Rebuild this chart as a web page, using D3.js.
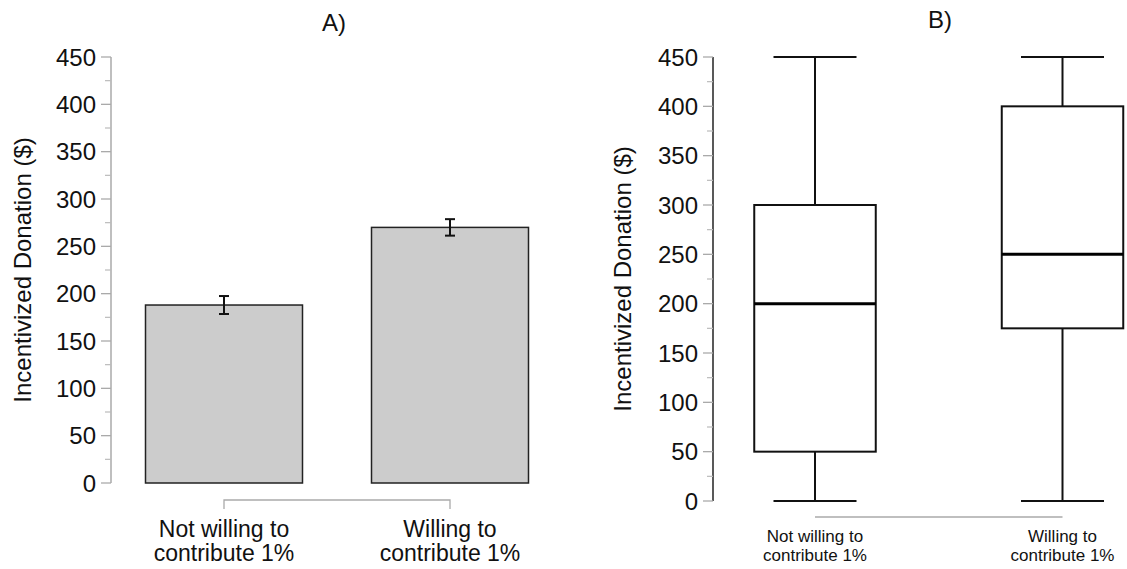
<!DOCTYPE html>
<html lang="en">
<head>
<meta charset="utf-8">
<script src="https://cdn.jsdelivr.net/npm/d3@7"></script>
<style>
  body { margin: 0; background: #fff; }
  svg text { font-family: "Liberation Sans", Arial, sans-serif; fill: #111; }
</style>
</head>
<body>
<div id="chart"></div>
<script>
// data
var categories = ["Not willing to contribute 1%", "Willing to contribute 1%"];
var labelLines = [["Not willing to", "contribute 1%"], ["Willing to", "contribute 1%"]];
var meanDonation = [188, 270];
var seDonation = [9.5, 8.7];
var boxMin = [0, 0];
var boxQ1 = [50, 175];
var boxMedian = [200, 250];
var boxQ3 = [300, 400];
var boxMax = [450, 450];
var yTicks = [0, 50, 100, 150, 200, 250, 300, 350, 400, 450];
var yMinorTicks = [25, 75, 125, 175, 225, 275, 325, 375, 425];
var yTitle = "Incentivized Donation ($)";

var svg = d3.select("#chart").append("svg")
  .attr("width", 1127).attr("height", 569);

// draws a y axis with major + minor ticks
function yAxis(g, y, x, lineColor) {
  var ax = g.append("g").attr("transform", "translate(" + x + ",0)");
  ax.append("line").attr("y1", y(0)).attr("y2", y(450))
    .attr("stroke", lineColor).attr("stroke-width", 1.5);
  ax.selectAll(".maj").data(yTicks).enter().append("line")
    .attr("x1", -10).attr("x2", 0).attr("y1", y).attr("y2", y)
    .attr("stroke", "#aaa").attr("stroke-width", 1.3);
  ax.selectAll(".min").data(yMinorTicks).enter().append("line")
    .attr("x1", -6).attr("x2", 0).attr("y1", y).attr("y2", y)
    .attr("stroke", "#bbb").attr("stroke-width", 1.2);
  ax.selectAll("text").data(yTicks).enter().append("text")
    .attr("x", -15).attr("y", y).attr("dy", "0.36em")
    .attr("text-anchor", "end").style("font-size", "24px")
    .text(d => d);
}

// two-line category labels, one text per line
function xLabels(g, x, y0, step, size) {
  categories.forEach(function (c, i) {
    labelLines[i].forEach(function (t, j) {
      g.append("text").attr("x", x(c)).attr("y", y0 + j * step)
        .attr("text-anchor", "middle").style("font-size", size + "px").text(t);
    });
  });
}

// ---------- panel A: bar chart with error bars ----------
var yA = d3.scaleLinear().domain([0, 450]).range([483, 57]);
var xA = d3.scalePoint().domain(categories).range([224, 450]);
var barW = 157;
var gA = svg.append("g");

gA.selectAll("rect").data(categories).enter().append("rect")
  .attr("x", d => xA(d) - barW / 2)
  .attr("y", (d, i) => yA(meanDonation[i]))
  .attr("width", barW)
  .attr("height", (d, i) => yA(0) - yA(meanDonation[i]))
  .attr("fill", "#cccccc").attr("stroke", "#222").attr("stroke-width", 1.5);

var eb = gA.selectAll(".eb").data(categories).enter().append("g");
eb.append("line")
  .attr("x1", d => xA(d)).attr("x2", d => xA(d))
  .attr("y1", (d, i) => yA(meanDonation[i] - seDonation[i]))
  .attr("y2", (d, i) => yA(meanDonation[i] + seDonation[i]))
  .attr("stroke", "#111").attr("stroke-width", 2);
[-1, 1].forEach(function (s) {
  eb.append("line")
    .attr("x1", d => xA(d) - 5).attr("x2", d => xA(d) + 5)
    .attr("y1", (d, i) => yA(meanDonation[i] + s * seDonation[i]))
    .attr("y2", (d, i) => yA(meanDonation[i] + s * seDonation[i]))
    .attr("stroke", "#111").attr("stroke-width", 2);
});

yAxis(gA, yA, 111, "#aaa");

// x bracket
gA.append("path")
  .attr("d", "M" + xA(categories[0]) + ",509V500H" + xA(categories[1]) + "V509")
  .attr("fill", "none").attr("stroke", "#aaa").attr("stroke-width", 1.3);

xLabels(gA, xA, 537, 24, 23);

gA.append("text").attr("x", 334).attr("y", 31).attr("text-anchor", "middle")
  .style("font-size", "24px").text("A)");
gA.append("text").attr("transform", "translate(31," + ((yA(0) + yA(450)) / 2) + ") rotate(-90)")
  .attr("text-anchor", "middle").style("font-size", "24px").text(yTitle);

// ---------- panel B: box plot ----------
var yB = d3.scaleLinear().domain([0, 450]).range([501, 57]);
var xB = d3.scalePoint().domain(categories).range([815, 1062.5]);
var boxW = 121.5, capW = 83;
var gB = svg.append("g");

var bx = gB.selectAll(".box").data(categories).enter().append("g");
// whiskers
bx.append("line")
  .attr("x1", d => xB(d)).attr("x2", d => xB(d))
  .attr("y1", (d, i) => yB(boxQ3[i])).attr("y2", (d, i) => yB(boxMax[i]))
  .attr("stroke", "#111").attr("stroke-width", 2);
bx.append("line")
  .attr("x1", d => xB(d)).attr("x2", d => xB(d))
  .attr("y1", (d, i) => yB(boxQ1[i])).attr("y2", (d, i) => yB(boxMin[i]))
  .attr("stroke", "#111").attr("stroke-width", 2);
[boxMax, boxMin].forEach(function (arr) {
  bx.append("line")
    .attr("x1", d => xB(d) - capW / 2).attr("x2", d => xB(d) + capW / 2)
    .attr("y1", (d, i) => yB(arr[i])).attr("y2", (d, i) => yB(arr[i]))
    .attr("stroke", "#111").attr("stroke-width", 2);
});
bx.append("rect")
  .attr("x", d => xB(d) - boxW / 2).attr("width", boxW)
  .attr("y", (d, i) => yB(boxQ3[i]))
  .attr("height", (d, i) => yB(boxQ1[i]) - yB(boxQ3[i]))
  .attr("fill", "#fff").attr("stroke", "#111").attr("stroke-width", 2);
bx.append("line")
  .attr("x1", d => xB(d) - boxW / 2).attr("x2", d => xB(d) + boxW / 2)
  .attr("y1", (d, i) => yB(boxMedian[i])).attr("y2", (d, i) => yB(boxMedian[i]))
  .attr("stroke", "#000").attr("stroke-width", 3);

yAxis(gB, yB, 713, "#222");

gB.append("line")
  .attr("x1", xB(categories[0])).attr("x2", xB(categories[1]))
  .attr("y1", 517).attr("y2", 517)
  .attr("stroke", "#aaa").attr("stroke-width", 1.3);

xLabels(gB, xB, 542, 19, 17);

gB.append("text").attr("x", 940).attr("y", 28).attr("text-anchor", "middle")
  .style("font-size", "24px").text("B)");
gB.append("text").attr("transform", "translate(631," + ((yB(0) + yB(450)) / 2) + ") rotate(-90)")
  .attr("text-anchor", "middle").style("font-size", "24px").text(yTitle);
</script>
</body>
</html>
